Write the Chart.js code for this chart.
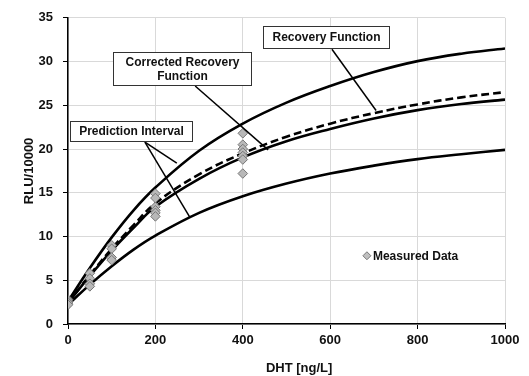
<!DOCTYPE html>
<html><head><meta charset="utf-8">
<script src="https://cdn.jsdelivr.net/npm/chart.js@4.4.1/dist/chart.umd.min.js"></script>
<style>html,body{margin:0;padding:0;background:#fff}</style>
</head><body>
<canvas id="c" width="529" height="376"></canvas>
<script>
// ---- data ----
const curveX        = [0, 50, 100, 150, 200, 300, 400, 500, 600, 700, 800, 900, 1000];
const upperPI       = [2.6, 6.4, 9.9, 13.0, 15.6, 19.8, 22.9, 25.3, 27.2, 28.8, 30.05, 30.9, 31.5];
const recoveryFn    = [2.4, 5.5, 8.4, 11.0, 13.4, 16.6, 19.05, 20.9, 22.3, 23.5, 24.45, 25.15, 25.65];
const correctedFn   = [2.4, 5.6, 8.6, 11.3, 13.8, 17.1, 19.5, 21.4, 22.9, 24.1, 25.1, 25.9, 26.5];
const lowerPI       = [2.2, 4.5, 6.6, 8.5, 10.1, 12.7, 14.6, 16.05, 17.2, 18.1, 18.85, 19.4, 19.9];
const measuredX     = [0, 0, 0, 0, 50, 50, 50, 50, 100, 100, 100, 100, 200, 200, 200, 200, 200, 200, 400, 400, 400, 400, 400, 400, 400];
const measuredY     = [2.8, 2.6, 2.4, 2.2, 5.8, 5.2, 4.6, 4.3, 9.0, 8.6, 7.6, 7.3, 14.9, 14.4, 13.4, 13.0, 12.7, 12.3, 21.8, 20.5, 20.0, 19.6, 19.2, 18.8, 17.2];
const xTicks        = [0, 200, 400, 600, 800, 1000];
const yTicks        = [0, 5, 10, 15, 20, 25, 30, 35];
const xTitle        = 'DHT [ng/L]';
const yTitle        = 'RLU/10000';
const legendLabel   = 'Measured Data';

const pts = (xs, ys) => xs.map((x, i) => ({x: x, y: ys[i]}));
const FONT = '"Liberation Sans", Arial, sans-serif';

// callouts, anchored in data coordinates
const callouts = [
  {text: ['Recovery Function'], box: [446, 735, 34.1, 31.5],
   pointers: [[[604, 31.4], [705, 24.4]]]},
  {text: ['Corrected Recovery', 'Function'], box: [103, 419, 31.1, 27.3],
   pointers: [[[291, 27.2], [458, 19.9]]]},
  {text: ['Prediction Interval'], box: [5, 284, 23.2, 20.9],
   pointers: [[[176, 20.8], [249, 18.4]], [[176, 20.8], [279, 12.2]]]}
];
const legendPos = {x: 684, y: 7.8};

const calloutPlugin = {
  id: 'callouts',
  afterDatasetsDraw(chart) {
    const ctx = chart.ctx, xs = chart.scales.x, ys = chart.scales.y;
    ctx.save();
    ctx.strokeStyle = '#000'; ctx.lineWidth = 1.5;
    callouts.forEach(c => c.pointers.forEach(p => {
      ctx.beginPath();
      ctx.moveTo(xs.getPixelForValue(p[0][0]), ys.getPixelForValue(p[0][1]));
      ctx.lineTo(xs.getPixelForValue(p[1][0]), ys.getPixelForValue(p[1][1]));
      ctx.stroke();
    }));
    ctx.font = 'bold 12px ' + FONT;
    ctx.textAlign = 'center'; ctx.textBaseline = 'middle';
    callouts.forEach(c => {
      const l = Math.round(xs.getPixelForValue(c.box[0])) + 0.5, r = Math.round(xs.getPixelForValue(c.box[1])) + 0.5;
      const t = Math.round(ys.getPixelForValue(c.box[2])) + 0.5, b = Math.round(ys.getPixelForValue(c.box[3])) + 0.5;
      ctx.fillStyle = '#fff'; ctx.fillRect(l, t, r - l, b - t);
      ctx.strokeStyle = '#333'; ctx.lineWidth = 1; ctx.strokeRect(l, t, r - l, b - t);
      ctx.fillStyle = '#111';
      const lh = 14, cy = (t + b) / 2 - (c.text.length - 1) * lh / 2;
      c.text.forEach((s, i) => ctx.fillText(s, (l + r) / 2, cy + i * lh + 0.5));
    });
    const lx = xs.getPixelForValue(legendPos.x), ly = ys.getPixelForValue(legendPos.y);
    ctx.beginPath();
    ctx.moveTo(lx, ly - 4); ctx.lineTo(lx + 4, ly); ctx.lineTo(lx, ly + 4); ctx.lineTo(lx - 4, ly); ctx.closePath();
    ctx.fillStyle = '#c0c0c0'; ctx.fill(); ctx.strokeStyle = '#777'; ctx.lineWidth = 1; ctx.stroke();
    ctx.fillStyle = '#111'; ctx.textAlign = 'left';
    ctx.fillText(legendLabel, lx + 6, ly + 0.5);
    ctx.restore();
  }
};

const lineDs = (label, data, dash) => ({
  label: label, data: pts(curveX, data), showLine: true, fill: false,
  borderColor: '#000', borderWidth: 2.6, borderDash: dash || [],
  pointRadius: 0, tension: 0.4
});

new Chart(document.getElementById('c'), {
  type: 'scatter',
  data: {
    datasets: [
      {label: legendLabel, data: pts(measuredX, measuredY), pointStyle: 'rectRot', pointRadius: 4.8,
       backgroundColor: '#b8b8b8', borderColor: '#777', borderWidth: 1, showLine: false},
      lineDs('Corrected Recovery Function', correctedFn, [8, 4]),
      lineDs('Recovery Function', recoveryFn),
      lineDs('Upper Prediction Interval', upperPI),
      lineDs('Lower Prediction Interval', lowerPI)
    ]
  },
  options: {
    responsive: false, animation: false,
    layout: {padding: {top: 17, right: 24, left: 0, bottom: 0}},
    plugins: {legend: {display: false}, tooltip: {enabled: false}},
    scales: {
      x: {
        type: 'linear', min: 0, max: 1000,
        afterBuildTicks: s => { s.ticks = xTicks.map(v => ({value: v})); },
        afterFit: s => { s.height = 52; },
        grid: {color: '#d9d9d9', lineWidth: 1, tickColor: '#000', tickLength: 5},
        border: {color: '#000', width: 1.5},
        ticks: {color: '#111', font: {family: FONT, size: 13, weight: 'bold'}, padding: 4, maxRotation: 0,
                callback: v => String(v)},
        title: {display: true, text: '       ' + xTitle, color: '#111', font: {family: FONT, size: 13, weight: 'bold'}, padding: {top: 0, bottom: 0}}
      },
      y: {
        type: 'linear', min: 0, max: 35,
        afterBuildTicks: s => { s.ticks = yTicks.map(v => ({value: v})); },
        afterFit: s => { s.width = 68; },
        grid: {color: '#d9d9d9', lineWidth: 1, tickColor: '#000', tickLength: 5},
        border: {color: '#000', width: 1.5},
        ticks: {color: '#111', font: {family: FONT, size: 13, weight: 'bold'}, padding: 10, callback: v => String(v)},
        title: {display: true, text: yTitle, color: '#111', font: {family: FONT, size: 13, weight: 'bold'}, padding: {top: 22, bottom: 0}}
      }
    }
  },
  plugins: [calloutPlugin]
});
</script>
</body></html>
